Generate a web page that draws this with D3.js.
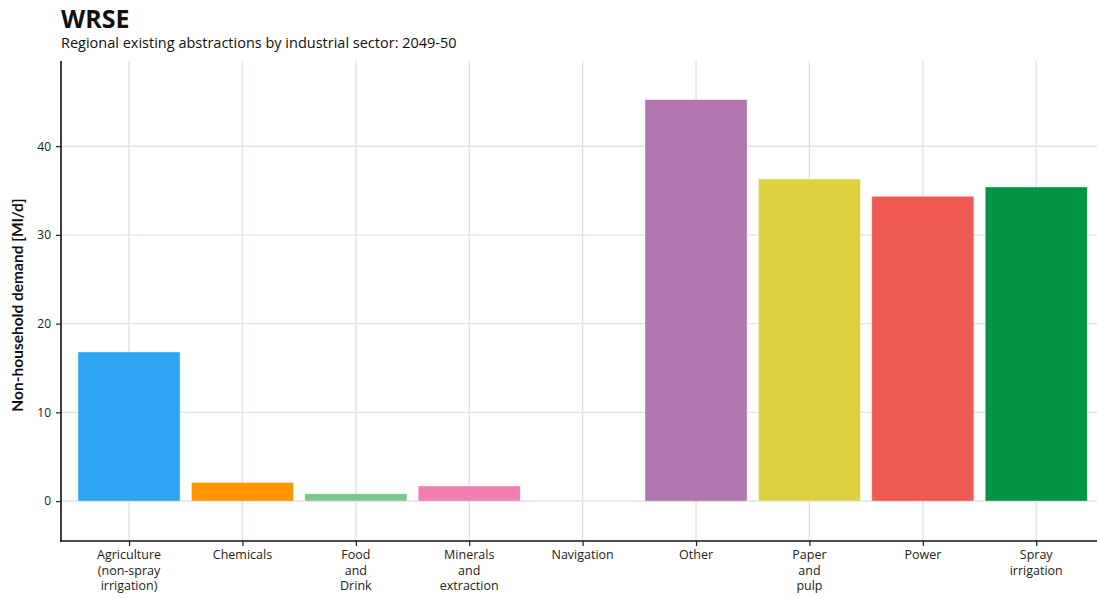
<!DOCTYPE html>
<html><head><meta charset="utf-8">
<script src="https://cdn.jsdelivr.net/npm/d3@7"></script>
<style>body{margin:0;background:#fff;} svg{display:block;font-family:"Open Sans",sans-serif;}</style>
</head><body>
<svg id="chart" width="1097" height="598"></svg>
<script>
const categories = ["Agriculture\n(non-spray\nirrigation)","Chemicals","Food\nand\nDrink","Minerals\nand\nextraction","Navigation","Other","Paper\nand\npulp","Power","Spray\nirrigation"];
const values = [16.8, 2.1, 0.83, 1.7, 0.1, 45.25, 36.3, 34.35, 35.4];
const colors = ["#2ea3f2","#ff9500","#7dc78b","#f07eb0","#d8d0bc","#b176b0","#ddd142","#f05a53","#039545"];
const yTicks = [0,10,20,30,40];
const title = "WRSE";
const subtitle = "Regional existing abstractions by industrial sector: 2049-50";
const yTitle = "Non-household demand [Ml/d]";

const svg = d3.select("#chart");
const L = 61, T = 61, B = 541;
const step = 113.4;
const R = L + step * (categories.length - 1 + 1.2);

const xc = d3.scalePoint().domain(categories).range([L + 0.6*step, R - 0.6*step]);
const y = d3.scaleLinear().domain([-4.5, 49.6]).range([B, T]);

const g = svg.append("g");
// grid
g.append("g").selectAll("line").data(yTicks).join("line")
  .attr("x1", L).attr("x2", R).attr("y1", d => y(d)).attr("y2", d => y(d))
  .attr("stroke", "#e1e0ec").attr("stroke-width", 1.4);
g.append("g").selectAll("line").data(categories).join("line")
  .attr("x1", d => xc(d)).attr("x2", d => xc(d)).attr("y1", T).attr("y2", B)
  .attr("stroke", "#e1e0ec").attr("stroke-width", 1.4);

// bars
const bw = step * 0.9;
g.append("g").selectAll("rect").data(values).join("rect")
  .attr("x", (d,i) => xc(categories[i]) - bw/2)
  .attr("width", bw)
  .attr("y", d => y(Math.max(d,0)))
  .attr("height", d => Math.abs(y(0) - y(d)))
  .attr("fill", (d,i) => colors[i])
  .attr("stroke", "rgba(255,255,255,0.5)").attr("stroke-width", 0.8);

// axes
const yAxis = d3.axisLeft(y).tickValues(yTicks).tickSize(5).tickPadding(5);
const ya = svg.append("g").attr("transform", `translate(${L},0)`).call(yAxis);
ya.select(".domain").remove();
ya.selectAll("line").attr("stroke", "#222").attr("stroke-width", 1.2);
ya.selectAll("text").attr("font-size", 12).attr("fill", "#222").attr("font-family", "'Open Sans',sans-serif");
svg.append("line").attr("x1", L).attr("x2", L).attr("y1", T).attr("y2", B + 0.75).attr("stroke", "#111").attr("stroke-width", 1.6);

const xAxis = d3.axisBottom(xc).tickSize(5).tickFormat(() => "");
const xa = svg.append("g").attr("transform", `translate(0,${B})`).call(xAxis);
xa.select(".domain").remove();
xa.selectAll("line").attr("stroke", "#222").attr("stroke-width", 1.2);
svg.append("line").attr("x1", L - 0.75).attr("x2", R).attr("y1", B).attr("y2", B).attr("stroke", "#111").attr("stroke-width", 1.6);

// x labels
const lab = svg.append("g").selectAll("text").data(categories).join("text")
  .attr("x", d => xc(d)).attr("y", 559).attr("text-anchor", "middle")
  .attr("font-size", 12.5).attr("fill", "#222");
lab.each(function(d){
  const t = d3.select(this);
  d.split("\n").forEach((s,i) => t.append("tspan").attr("x", xc(d)).attr("dy", i === 0 ? 0 : 15.5).text(s));
});

// y title
svg.append("text").attr("transform", `translate(23,${(T+B)/2 + 4}) rotate(-90)`)
  .attr("text-anchor", "middle").attr("font-family", "Lato, sans-serif").attr("font-size", 15.5).attr("font-weight", "bold").attr("fill", "#111").text(yTitle);

// titles
svg.append("text").attr("x", L).attr("y", 28).attr("font-size", 25).attr("font-weight", "bold").attr("fill", "#111").text(title);
svg.append("text").attr("x", L).attr("y", 48).attr("font-size", 14.5).attr("fill", "#111").text(subtitle);
</script>
</body></html>
